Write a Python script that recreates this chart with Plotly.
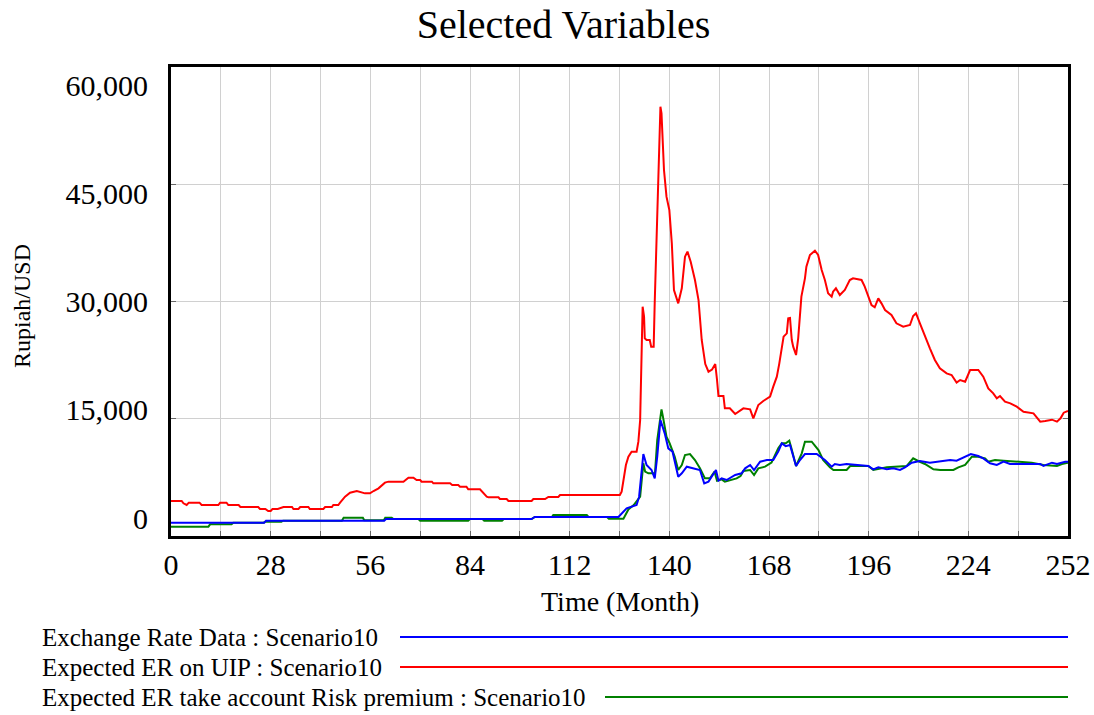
import plotly.graph_objects as go

# ---------------- data ----------------
red_t = [0, 3, 3.5, 4.4, 5, 8, 8.6, 13.3, 13.8, 15.6, 16.1, 19, 19.5, 24.5, 25, 26.5, 27.3, 28, 28.5, 30,
         31.6, 34, 34.4, 35.8, 36.3, 38.6, 39, 42.8, 43.3, 45.2, 45.6, 47, 47.5, 48.9, 50.3, 52.2, 54.5, 55.9,
         56.9, 58.3, 60.1, 61.1, 65.3, 66.7, 68.1, 69, 70, 70.4, 73.3, 73.7, 78.4, 79, 80.7, 81.2, 83, 83.5,
         86.8, 88.7, 89.2, 92, 92.4, 94.3, 94.8, 101.3, 101.8, 105.1, 106, 108.8, 109.3, 126.1, 126.6, 127.1,
         127.8, 128.5, 129.4, 130.8, 131.3, 131.8, 132.2, 132.5, 132.9, 133.1, 133.6, 134.5, 134.9, 135.6,
         135.9, 136.4, 136.9, 137.1, 137.5, 137.8, 138.1, 138.5, 139.2, 140, 140.7, 141.3, 142.5, 143.5,
         144.4, 145.1, 146, 147.2, 148.2, 149.1, 150.1, 151, 152, 152.9, 153.4, 153.8, 155.2, 155.6, 157,
         158.5, 160.8, 162.7, 163.6, 165, 166.4, 168.3, 169.2, 170.2, 170.9, 171.6, 172.1, 173, 173.4, 173.9,
         174.4, 174.8, 175.6, 176.2, 176.7, 177.1, 178.1, 178.5, 179.5, 180.9, 181.8, 182.8, 183.7, 184.6,
         185.6, 186, 186.8, 187.9, 189.3, 190.7, 191.6, 194, 194.9, 195.9, 196.8, 197.7, 198.7, 199.6, 200.6,
         202.4, 203.8, 205.7, 207.6, 208.5, 209.3, 210.4, 211.8, 213.2, 214.6, 216, 217.9, 219.3, 220.7,
         221.7, 223.1, 224.5, 226.8, 228.2, 229.6, 231, 232, 232.9, 234.3, 235.8, 237.6, 239.5, 242.3, 244.2,
         245.6, 247.5, 248.9, 249.9, 250.8, 252]
red_v = [4478, 4478, 4180, 3966, 4265, 4265, 3966, 3966, 4265, 4265, 3966, 3966, 3710, 3710, 3454, 3454,
         3198, 3198, 3454, 3454, 3710, 3710, 3454, 3454, 3710, 3710, 3454, 3454, 3710, 3710, 3966, 3966,
         4265, 5032, 5544, 5757, 5458, 5458, 5757, 6099, 6824, 6952, 6952, 7464, 7464, 7164, 7164, 6952,
         6952, 6739, 6739, 6524, 6524, 6312, 6312, 5970, 5970, 5032, 4947, 4947, 4733, 4733, 4478, 4478,
         4733, 4733, 4990, 4990, 5245, 5245, 5671, 7377, 9083, 10150, 10790, 10790, 12066, 14840, 23370,
         29340, 28060, 25290, 25075, 25075, 24220, 24220, 29980, 38720, 47250, 48530, 54925, 54070, 50660,
         46820, 43410, 41705, 37440, 31470, 29765, 31685, 35735, 36375, 35095, 32750, 30190, 25075, 22000,
         21020, 21300, 22004, 19957, 17910, 17910, 16333, 16333, 15607, 16333, 16200, 15053, 16759, 17271,
         17825, 19104, 20380, 22090, 24220, 25500, 25928, 27846, 27900, 25075, 24220, 23155, 25290, 27846,
         30617, 32964, 34457, 35948, 36500, 35948, 34030, 32750, 31045, 30617, 31260, 31685, 30830, 31472,
         32750, 32964, 32750, 31898, 30617, 29552, 29260, 30404, 29765, 28912, 28273, 27206, 26780, 26990,
         28145, 28486, 27206, 25500, 24010, 22516, 21447, 20809, 20595, 19616, 19957, 19745, 21236, 21236,
         20380, 18891, 18250, 17610, 17910, 17184, 16972, 16545, 15905, 15693, 14625, 14710, 14880, 14625,
         15053, 15778, 16000]

blue_t = [0, 26.2, 26.7, 59.9, 60.4, 101.3, 102.2, 125.7, 128, 130.8, 131.5, 132.7, 133.6, 135, 135.9,
          136.6, 137.5, 138.7, 139.7, 140.9, 142.5, 143.5, 144.9, 146.7, 148.6, 149.8, 151, 153.1, 153.8,
          154.7, 156.1, 158.5, 160.3, 161.3, 162.7, 163.8, 165.5, 167.4, 169.2, 170.6, 171.6, 172.7, 173.9,
          175.6, 176.7, 178.1, 181.4, 183.7, 185.6, 186.5, 187.9, 189.8, 195.9, 197.3, 198.7, 201.1, 202.9,
          204.8, 206.2, 208.1, 210.4, 213.2, 216.1, 218.9, 220.7, 222.6, 224.7, 226.8, 228.2, 230.1, 232,
          233.9, 235.7, 244.2, 245.1, 247.5, 248.9, 251.2, 252]
blue_v = [1706, 1706, 1962, 1962, 2175, 2175, 2431, 2431, 3539, 3966, 5000, 10490, 9083, 8443, 7377,
          10150, 14840, 13134, 11215, 10790, 7590, 8017, 8870, 8656, 8443, 6739, 6952, 8443, 7078, 7377,
          7164, 7804, 8017, 8656, 9083, 8443, 9509, 9723, 9723, 10790, 11856, 11500, 11640, 8955, 9723,
          10490, 10490, 9723, 8870, 9210, 9083, 9210, 8955, 8528, 8785, 8528, 8656, 8443, 8785, 9380, 9595,
          9380, 9509, 9723, 9637, 10020, 10490, 10236, 9936, 9295, 9083, 9509, 9210, 9210, 8955, 9380, 9210,
          9509, 9509]

green_t = [0, 10.5, 11, 17, 17.5, 26, 26.5, 31, 31.5, 48, 48.5, 53.9, 54.3, 59.8, 60.2, 62, 62.5, 69.5,
           70, 83.5, 84, 87.5, 88, 93, 93.5, 101.3, 102.2, 107, 107.4, 116.8, 117.3, 122.5, 123, 127.1, 128.5,
           130, 131.8, 132.7, 133.2, 134.1, 135.5, 135.9, 136.6, 137.3, 137.8, 138.2, 139.2, 140.1, 141.5,
           142.5, 143.5, 144.4, 145.8, 147.2, 148.6, 150, 151.4, 152.7, 153.4, 154.7, 155.6, 158.9, 160,
           160.8, 162.7, 163.8, 165, 166.9, 168.7, 170.6, 171.6, 172.7, 173.7, 174.3, 175.6, 177.2, 178.1,
           180, 181.9, 183.2, 185.1, 186.1, 189.8, 190.8, 195.9, 197.3, 201.1, 206.7, 208.5, 209.9, 211.8,
           214.2, 216.1, 219.8, 221.2, 223.1, 225, 226.8, 228.7, 229.6, 231.5, 233.9, 239.5, 241.8, 245.1,
           248.9, 250.3, 252]
green_v = [1194, 1194, 1493, 1493, 1706, 1706, 1834, 1834, 1962, 1962, 2345, 2345, 2004, 2004, 2345, 2345,
           2175, 2175, 1962, 1962, 2175, 2175, 1962, 1962, 2175, 2175, 2431, 2431, 2687, 2687, 2431, 2431,
           2218, 2218, 3400, 3966, 5032, 9298, 8230, 8017, 8017, 7590, 12280, 14840, 16205, 15265, 12705,
           11856, 10150, 8443, 9083, 10362, 10490, 9723, 8656, 7377, 7377, 8230, 7078, 7250, 6952, 7377,
           7677, 8315, 8443, 7804, 8656, 8870, 9380, 11215, 11856, 11856, 12194, 11215, 8955, 10576, 12066,
           12066, 11002, 9723, 8785, 8443, 8443, 8955, 8955, 8443, 8785, 8955, 9936, 9595, 9210, 8528, 8443,
           8443, 8785, 9083, 10150, 10150, 9936, 9509, 9723, 9637, 9509, 9380, 9083, 8955, 9210, 9380]

series_names = ["Exchange Rate Data : Scenario10",
                "Expected ER on UIP : Scenario10",
                "Expected ER take account Risk premium : Scenario10"]
x_ticks = list(range(0, 253, 28))
y_ticks = [0, 15000, 30000, 45000, 60000]
y_ticktext = ["0", "15,000", "30,000", "45,000", "60,000"]

# ---------------- figure ----------------
W, H = 1094, 715
L, R, T, B = 171, 1068, 67, 536
SERIF = "Liberation Serif, Times New Roman, serif"
BLUE, RED, GREEN = "#0000ff", "#ff0000", "#008000"

fig = go.Figure()
fig.add_trace(go.Scatter(x=red_t, y=red_v, mode="lines", line=dict(color=RED, width=2),
                         name=series_names[1], showlegend=False))
fig.add_trace(go.Scatter(x=green_t, y=green_v, mode="lines", line=dict(color=GREEN, width=2),
                         name=series_names[2], showlegend=False))
fig.add_trace(go.Scatter(x=blue_t, y=blue_v, mode="lines", line=dict(color=BLUE, width=2),
                         name=series_names[0], showlegend=False))
# label-only axis (Vensim places y labels on a slightly compressed scale)
fig.add_trace(go.Scatter(x=[None], y=[None], yaxis="y2", mode="lines", showlegend=False,
                         hoverinfo="skip"))

lab_top, lab_bot = 85, 518  # pixel centres of the 60,000 and 0 labels
per_px = 60000 / (lab_bot - lab_top)
y2_range = [-(B - lab_bot) * per_px, (lab_bot - T) * per_px]

grid = "#d0d0d0"
fig.update_layout(
    width=W, height=H, autosize=False,
    margin=dict(l=L, r=W - R, t=T, b=H - B, pad=0, autoexpand=False),
    paper_bgcolor="white", plot_bgcolor="white",
    font=dict(family=SERIF, color="black"),
    title=dict(text="Selected Variables", font=dict(size=40, family=SERIF, color="black"),
               xref="container", yref="container", x=563.5 / W, xanchor="center",
               y=1 - 24 / H, yanchor="middle"),
    xaxis=dict(range=[0, 252], tickvals=x_ticks, showgrid=True, gridcolor=grid, gridwidth=1,
               minor=dict(dtick=14, tick0=0, showgrid=True, gridcolor=grid, ticks="inside",
                          ticklen=5, tickcolor="#666"),
               ticks="inside", ticklen=5, tickcolor="#666", automargin=False,
               showline=True, linecolor="black", linewidth=3, mirror=True,
               zeroline=False, tickfont=dict(size=30, family=SERIF), ticklabelstandoff=0),
    yaxis=dict(range=[0, 60000], tickvals=y_ticks, showgrid=True, gridcolor=grid, gridwidth=1,
               showticklabels=False, ticks="inside", ticklen=5, tickcolor="#666", automargin=False,
               showline=True, linecolor="black", linewidth=3, mirror="ticks", zeroline=False),
    yaxis2=dict(range=y2_range, overlaying="y", side="left", tickvals=y_ticks, ticktext=y_ticktext,
                showgrid=False, zeroline=False, showline=False, ticks="", automargin=False,
                tickfont=dict(size=30, family=SERIF), ticklabelstandoff=22),
)

# axis titles
fig.add_annotation(text="Time (Month)", xref="paper", yref="paper", x=0.5,
                   y=-(601 - B) / (B - T), xanchor="center", yanchor="middle", showarrow=False,
                   font=dict(size=28, family=SERIF))
fig.add_annotation(text="Rupiah/USD", xref="paper", yref="paper", x=-(L - 22) / (R - L),
                   y=(B - 306) / (B - T), xanchor="center", yanchor="middle", textangle=-90,
                   showarrow=False, font=dict(size=24, family=SERIF))

# Vensim-style legend below the chart
leg_rows = [(series_names[0], BLUE, 637, 400), (series_names[1], RED, 667, 400),
            (series_names[2], GREEN, 697, 605)]
for name, col, ypx, x0 in leg_rows:
    fig.add_annotation(text=name, xref="paper", yref="paper", x=-(L - 40) / (R - L),
                       y=(B - ypx) / (B - T), xanchor="left", yanchor="middle", showarrow=False,
                       font=dict(size=25, family=SERIF))
    fig.add_shape(type="line", xref="paper", yref="paper", x0=(x0 - L) / (R - L), x1=1.0,
                  y0=(B - ypx) / (B - T), y1=(B - ypx) / (B - T), line=dict(color=col, width=2))

fig.write_html("out.html", config={"displayModeBar": False},
               post_script="document.body.style.margin='0';")
